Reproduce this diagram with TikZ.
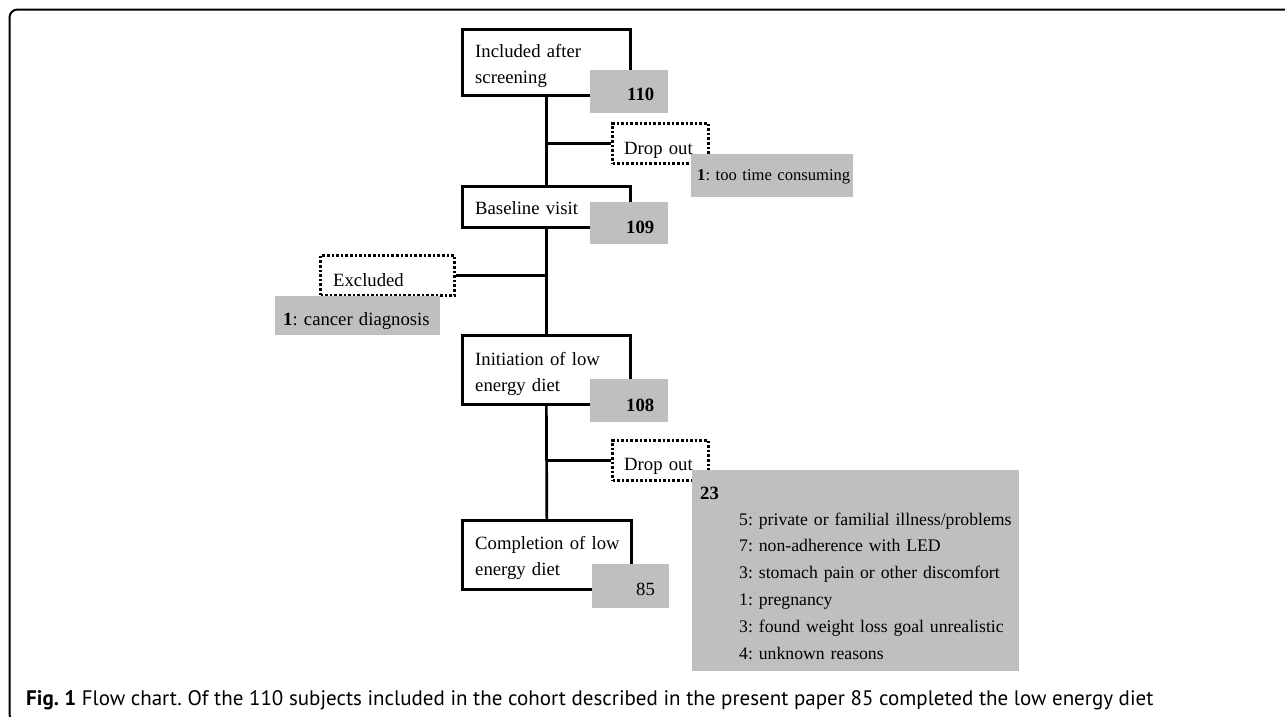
\documentclass[tikz,border=0pt]{standalone}
\usepackage{fontspec}
\setmainfont{Liberation Serif}
\newfontfamily\capfont{PT Sans}
\definecolor{boxgray}{RGB}{191,191,191}
\frenchspacing
\begin{document}
\begin{tikzpicture}[x=1pt,y=-1pt,
  mainbox/.style={draw, line width=2.7pt, inner sep=0pt, anchor=north west},
  dotbox/.style={draw, line width=3pt, dash pattern=on 2.6pt off 2pt, inner sep=0pt, anchor=north west},
  graybox/.style={fill=boxgray, inner sep=0pt, anchor=north west},
  conn/.style={line width=2.7pt},
  lbl/.style={font=\fontsize{18.7}{26}\selectfont, inner sep=0pt, anchor=base west, align=left, text width=#1},
  lbl/.default=250pt,
  frame/.style={line width=2pt, rounded corners=8pt}
]
\useasboundingbox (0,0) rectangle (1285,716);
\clip (0,0) rectangle (1285,716);
% frame
\draw[frame] (1300,9.5) -- (9.5,9.5) -- (9.5,722) -- (40,722);
% main boxes
\node[mainbox, minimum width=168pt, minimum height=66pt] (b1) at (461,28) {};
\node[mainbox, minimum width=168pt, minimum height=41pt] (b2) at (461,185) {};
\node[mainbox, minimum width=168pt, minimum height=69pt] (b3) at (461,334) {};
\node[mainbox, minimum width=169pt, minimum height=69pt] (b4) at (461,519) {};
% dotted boxes
\node[dotbox, minimum width=96pt, minimum height=40pt] (d1) at (611,122) {};
\node[dotbox, minimum width=134pt, minimum height=40pt] (e1) at (319,254) {};
\node[dotbox, minimum width=96pt, minimum height=40pt] (d2) at (611,439) {};
% gray boxes
\node[graybox, minimum width=78pt, minimum height=43pt] (g1) at (590,70) {};
\node[graybox, minimum width=78pt, minimum height=42pt] (g2) at (590,202) {};
\node[graybox, minimum width=78pt, minimum height=43pt] (g3) at (590,379) {};
\node[graybox, minimum width=77pt, minimum height=44pt] (g4) at (592,564) {};
\node[graybox, minimum width=162pt, minimum height=43pt] (r1) at (691,154) {};
\node[graybox, minimum width=165pt, minimum height=39pt] (r2) at (275,296) {};
\node[graybox, minimum width=327pt, minimum height=201pt] (r3) at (692,470) {};
% texts
\node[lbl] (t1) at (475,57) {Included after\\screening};
\node[lbl] (t2) at (475,214) {Baseline visit};
\node[lbl] (t3) at (475,365) {Initiation of low\\energy diet};
\node[lbl] (t4) at (475,549) {Completion of low\\energy diet};
\node[lbl=40pt] (n1) at (627,100) {\textbf{110}};
\node[lbl=40pt] (n2) at (626,233) {\textbf{109}};
\node[lbl=40pt] (n3) at (626,411) {\textbf{108}};
\node[lbl=40pt] (n4) at (636,595) {85};
\node[lbl=90pt] (dt1) at (624,154) {Drop out};
\node[lbl=90pt] (dt2) at (624,470) {Drop out};
\node[lbl=120pt] (et1) at (333,286) {Excluded};
\node[lbl, font=\fontsize{16.6}{26}\selectfont] (rt1) at (697,180) {\textbf{1}: too time consuming};
\node[lbl] (rt2) at (283,325) {\textbf{1}: cancer diagnosis};
\node[lbl=40pt] (rt3) at (700,499) {\textbf{23}};
\node[lbl=300pt, font=\fontsize{17.7}{26.8}\selectfont] (rt4) at (739,525) {5: private or familial illness/problems\\7: non-adherence with LED\\3: stomach pain or other discomfort\\1: pregnancy\\3: found weight loss goal unrealistic\\4: unknown reasons};
% connectors
\draw[conn] (b1.south) -- (b2.north);
\draw[conn] (b2.south) -- (b3.north);
\draw[conn] (b3.south) -- (b4.north);
\draw[conn] (d1.west) -- (d1.west -| b1.south);
\draw[conn] (e1.east) -- (e1.east -| b2.south);
\draw[conn] (d2.west) -- (d2.west -| b3.south);
% caption
\node[anchor=base west, inner sep=0pt, font=\capfont\fontsize{21}{25}\selectfont] (cap) at (26,705) {\textbf{Fig. 1} Flow chart. Of the 110 subjects included in the cohort described in the present paper 85 completed the low energy diet};
\end{tikzpicture}
\end{document}
